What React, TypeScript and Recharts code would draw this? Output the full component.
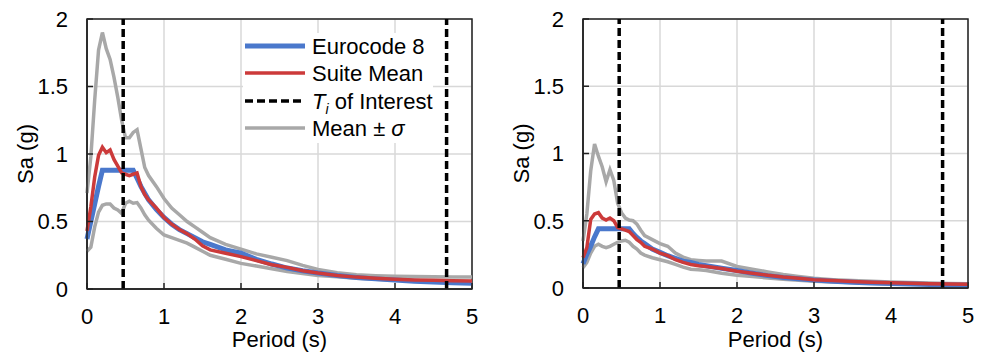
import {
  CartesianGrid,
  Legend,
  Line,
  LineChart,
  ReferenceArea,
  ReferenceLine,
  XAxis,
  YAxis,
} from 'recharts';

const periods = [
  0, 0.05, 0.1, 0.15, 0.2, 0.25, 0.3, 0.35, 0.4, 0.45, 0.5, 0.55, 0.6, 0.65,
  0.7, 0.75, 0.8, 0.9, 1.0, 1.1, 1.2, 1.3, 1.4, 1.5, 1.6, 1.8, 2.0, 2.2, 2.4,
  2.6, 2.8, 3.0, 3.25, 3.5, 3.75, 4.0, 4.25, 4.5, 4.75, 5.0,
];

// left panel
const ec8Left = [
  0.37, 0.5, 0.63, 0.76, 0.88, 0.88, 0.88, 0.88, 0.88, 0.88, 0.88, 0.88, 0.88,
  0.82, 0.76, 0.71, 0.66, 0.59, 0.53, 0.48, 0.44, 0.41, 0.38, 0.35, 0.33, 0.29,
  0.265, 0.22, 0.185, 0.155, 0.135, 0.118, 0.1, 0.086, 0.075, 0.066, 0.058,
  0.052, 0.047, 0.042,
];
const meanLeft = [
  0.43, 0.61, 0.83, 0.99, 1.05, 1.01, 1.03, 0.96, 0.91, 0.86, 0.85, 0.84, 0.85,
  0.86, 0.76, 0.7, 0.66, 0.6, 0.53, 0.48, 0.44, 0.41, 0.37, 0.32, 0.29, 0.265,
  0.24, 0.21, 0.18, 0.16, 0.135, 0.118, 0.1, 0.088, 0.08, 0.072, 0.067, 0.064,
  0.062, 0.06,
];
const upperLeft = [
  0.71, 0.98, 1.4, 1.77, 1.9, 1.78, 1.7, 1.57, 1.42, 1.25, 1.12, 1.12, 1.16,
  1.18, 1.04, 0.9, 0.84, 0.76, 0.67, 0.6, 0.55, 0.5, 0.46, 0.42, 0.38, 0.33,
  0.295, 0.26, 0.235, 0.21, 0.175, 0.145, 0.12, 0.105, 0.098, 0.094, 0.092,
  0.09, 0.089, 0.088,
];
const lowerLeft = [
  0.28, 0.31, 0.46, 0.57, 0.62, 0.63, 0.63, 0.6, 0.585, 0.56, 0.635, 0.65,
  0.635, 0.64, 0.6, 0.55, 0.51, 0.45, 0.4, 0.38, 0.36, 0.34, 0.31, 0.28, 0.25,
  0.22, 0.19, 0.17, 0.15, 0.13, 0.115, 0.1, 0.09, 0.08, 0.072, 0.066, 0.062,
  0.058, 0.055, 0.053,
];

// right panel
const ec8Right = [
  0.18, 0.25, 0.31, 0.38, 0.44, 0.44, 0.44, 0.44, 0.44, 0.44, 0.44, 0.44, 0.44,
  0.405, 0.376, 0.35, 0.33, 0.29, 0.265, 0.24, 0.22, 0.2, 0.19, 0.175, 0.165,
  0.147, 0.13, 0.11, 0.092, 0.078, 0.068, 0.059, 0.05, 0.043, 0.038, 0.033,
  0.029, 0.026, 0.023, 0.021,
];
const meanRight = [
  0.225, 0.3, 0.51, 0.55, 0.56, 0.52, 0.505, 0.52, 0.5, 0.45, 0.44, 0.43, 0.42,
  0.39, 0.36, 0.34, 0.31, 0.29, 0.26, 0.24, 0.21, 0.19, 0.175, 0.165, 0.16,
  0.145, 0.125, 0.11, 0.095, 0.082, 0.072, 0.062, 0.055, 0.048, 0.043, 0.039,
  0.035, 0.032, 0.03, 0.028,
];
const upperRight = [
  0.35, 0.55, 0.87, 1.07, 0.98, 0.9, 0.79, 0.88, 0.8, 0.63, 0.56, 0.52, 0.505,
  0.5, 0.475, 0.43, 0.39, 0.36, 0.33, 0.31, 0.26, 0.23, 0.21, 0.205, 0.2, 0.2,
  0.16, 0.14, 0.12, 0.1, 0.085, 0.072, 0.062, 0.055, 0.05, 0.045, 0.04, 0.037,
  0.034, 0.032,
];
const lowerRight = [
  0.15, 0.19, 0.26, 0.31, 0.325, 0.31, 0.3, 0.31, 0.325, 0.34, 0.35, 0.355,
  0.34, 0.31, 0.29, 0.26, 0.245, 0.225, 0.21, 0.195, 0.175, 0.155, 0.14, 0.135,
  0.13, 0.11, 0.095, 0.085, 0.075, 0.065, 0.057, 0.05, 0.044, 0.04, 0.036,
  0.032, 0.029, 0.026, 0.024, 0.022,
];

const periodsOfInterest = [0.47, 4.67];
const xTicks = [0, 1, 2, 3, 4, 5];
const yTicks = [0, 0.5, 1, 1.5, 2];

const BLUE = '#4a78cc';
const RED = '#cc3a3a';
const GRAY = '#a8a8a8';
const FONT = '"Liberation Sans", Arial, sans-serif';
const FS = 22;

const toRows = (vals: number[]) => periods.map((t, i) => ({ t, v: vals[i] }));

const LegendBox = () => (
  <svg width={190} height={110} style={{ display: 'block', background: '#fff' }}>
    <line x1={2} x2={62} y1={13} y2={13} stroke={BLUE} strokeWidth={5} />
    <line x1={2} x2={62} y1={40} y2={40} stroke={RED} strokeWidth={3.5} />
    <line x1={2} x2={62} y1={68} y2={68} stroke="#000" strokeWidth={3.5} strokeDasharray="8 4" />
    <line x1={2} x2={62} y1={95} y2={95} stroke={GRAY} strokeWidth={3.5} />
    <g fontFamily={FONT} fontSize={FS} fill="#000">
      <text x={69} y={13} dy="0.36em">Eurocode 8</text>
      <text x={69} y={40} dy="0.36em">Suite Mean</text>
      <text x={69} y={68} dy="0.36em">
        <tspan fontStyle="italic">T</tspan>
        <tspan fontStyle="italic" fontSize={14} dy={5}>i</tspan>
        <tspan dy={-5}> of Interest</tspan>
      </text>
      <text x={69} y={95} dy="0.36em">
        Mean ± <tspan fontStyle="italic">σ</tspan>
      </text>
    </g>
  </svg>
);

type PanelProps = {
  width: number;
  axisHeight: number;
  ec8: number[];
  mean: number[];
  upper: number[];
  lower: number[];
  showLegend?: boolean;
};

const Panel = ({ width, axisHeight, ec8, mean, upper, lower, showLegend }: PanelProps) => (
  <LineChart
    width={width}
    height={355}
    margin={{ top: 19, right: width - 472, left: 25, bottom: 0 }}
  >
    <CartesianGrid stroke="#d8d8d8" strokeWidth={1.5} />
    <XAxis
      type="number"
      dataKey="t"
      domain={[0, 5]}
      ticks={xTicks}
      height={axisHeight}
      tickSize={-6}
      tickMargin={25}
      axisLine={{ stroke: '#222', strokeWidth: 1.5 }}
      tickLine={{ stroke: '#222', strokeWidth: 1.5 }}
      tick={{ fill: '#000', fontSize: FS, fontFamily: FONT }}
      label={{
        value: 'Period (s)',
        position: 'insideBottom',
        offset: 8,
        style: { fill: '#000', fontSize: FS, fontFamily: FONT },
      }}
    />
    <YAxis
      type="number"
      domain={[0, 2]}
      ticks={yTicks}
      width={62}
      tickSize={-6}
      tickMargin={25}
      axisLine={{ stroke: '#222', strokeWidth: 1.5 }}
      tickLine={{ stroke: '#222', strokeWidth: 1.5 }}
      tick={{ fill: '#000', fontSize: FS, fontFamily: FONT }}
      label={{
        value: 'Sa (g)',
        angle: -90,
        position: 'insideLeft',
        offset: 0,
        style: { fill: '#000', fontSize: FS, fontFamily: FONT, textAnchor: 'middle' },
      }}
    />
    <ReferenceArea x1={0} x2={5} y1={0} y2={2} fill="none" stroke="#222" strokeWidth={1.5} />
    <Line data={toRows(lower)} dataKey="v" type="linear" stroke={GRAY} strokeWidth={3.5} dot={false} isAnimationActive={false} />
    <Line data={toRows(upper)} dataKey="v" type="linear" stroke={GRAY} strokeWidth={3.5} dot={false} isAnimationActive={false} />
    <Line data={toRows(ec8)} dataKey="v" type="linear" stroke={BLUE} strokeWidth={5} dot={false} isAnimationActive={false} />
    <Line data={toRows(mean)} dataKey="v" type="linear" stroke={RED} strokeWidth={3.5} dot={false} isAnimationActive={false} />
    {periodsOfInterest.map((t) => (
      <ReferenceLine key={t} x={t} stroke="#000" strokeWidth={3.5} strokeDasharray="8 4" />
    ))}
    {showLegend && (
      <Legend
        layout="vertical"
        align="center"
        verticalAlign="middle"
        content={<LegendBox />}
        wrapperStyle={{ left: 243, top: 33, width: 190, height: 110 }}
      />
    )}
  </LineChart>
);

export default function App() {
  return (
    <div
      style={{
        position: 'absolute',
        left: 0,
        top: 0,
        width: 986,
        height: 355,
        background: '#fff',
        fontFamily: FONT,
      }}
    >
      <div style={{ position: 'absolute', left: 0, top: 0 }}>
        <Panel width={496} axisHeight={66} ec8={ec8Left} mean={meanLeft} upper={upperLeft} lower={lowerLeft} showLegend />
      </div>
      <div style={{ position: 'absolute', left: 496, top: 0 }}>
        <Panel width={490} axisHeight={67} ec8={ec8Right} mean={meanRight} upper={upperRight} lower={lowerRight} />
      </div>
    </div>
  );
}
